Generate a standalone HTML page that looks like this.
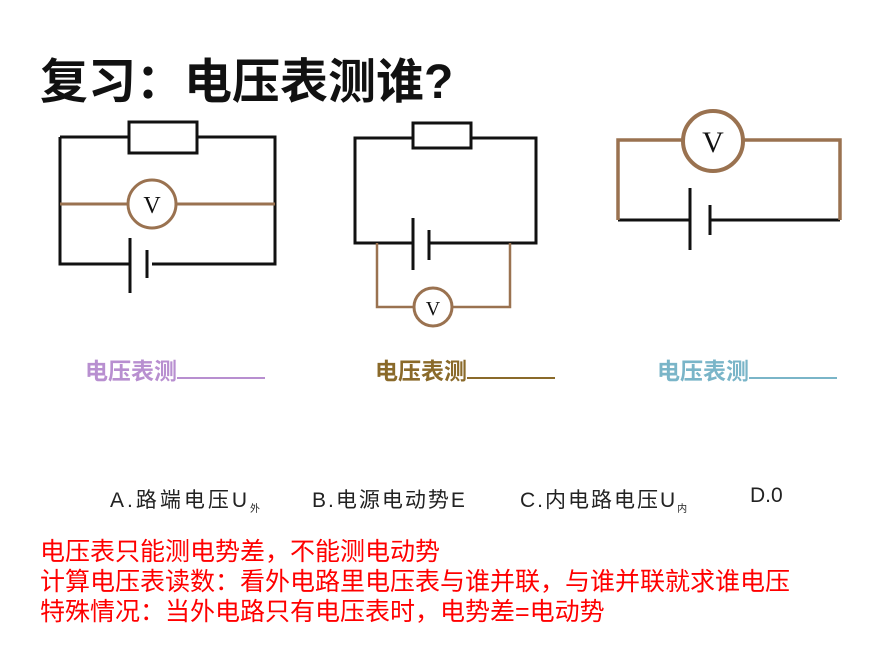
<!DOCTYPE html><html><head><meta charset="utf-8"><style>
body{margin:0;width:894px;height:668px;background:#fff;position:relative;overflow:hidden;font-family:"Liberation Sans","Noto Sans CJK SC",sans-serif}
.t{position:absolute;white-space:nowrap}
</style></head><body>
<div class="t" style="left:40px;top:42px;font-size:48px;font-weight:bold;color:#111">复习：电压表测谁?</div>
<svg width="894" height="668" style="position:absolute;left:0;top:0" fill="none">
<g stroke="#111" stroke-width="3">
<path d="M60 137H129M197 137H275V264H152M60 137V264H130"/>
<rect x="129" y="122" width="68" height="31" fill="#fff"/>
<path d="M130 238V293M147 250V278" />
<path d="M413 138H355V243H413M471 138H536V243H429"/>
<rect x="413" y="123" width="58" height="25" fill="#fff"/>
<path d="M413 218V270M429 230V260"/>
<path d="M618 220H690M710 220H840M690 188V250M710 205V235"/>
</g>
<g stroke="#9a7250" stroke-width="3">
<path d="M60 204H128M176 204H275"/>
<circle cx="152" cy="204" r="24" fill="#fff"/>
<path d="M377 243V307H414M452 307H510V243" stroke-width="2.5"/>
<circle cx="433" cy="307" r="19" fill="#fff"/>
<path d="M618 220V140H683M743 140H840V220" stroke-width="3.5"/>
<circle cx="713" cy="141" r="30" fill="#fff" stroke-width="4"/>
</g>
<g fill="#111" font-family="Liberation Serif,serif" text-anchor="middle">
<text x="152" y="213" font-size="24">V</text>
<text x="433" y="315" font-size="20">V</text>
<text x="713" y="152" font-size="30">V</text>
</g>
</svg>
<div class="t" style="left:85px;top:352px;font-size:23px;font-weight:bold;color:#b88fd0">电压表测<span style="display:inline-block;width:88px;border-bottom:2px solid #b88fd0"></span></div>
<div class="t" style="left:375px;top:352px;font-size:23px;font-weight:bold;color:#8a6a2a">电压表测<span style="display:inline-block;width:88px;border-bottom:2px solid #8a6a2a"></span></div>
<div class="t" style="left:657px;top:352px;font-size:23px;font-weight:bold;color:#7ab5c8">电压表测<span style="display:inline-block;width:88px;border-bottom:2px solid #7ab5c8"></span></div>
<div class="t" style="left:110px;top:484px;font-size:21px;letter-spacing:3px;color:#222">A.路端电压U<sub style="font-size:10px">外</sub></div>
<div class="t" style="left:312px;top:484px;font-size:21px;letter-spacing:2px;color:#222">B.电源电动势E</div>
<div class="t" style="left:520px;top:484px;font-size:21px;letter-spacing:2px;color:#222">C.内电路电压U<sub style="font-size:10px">内</sub></div>
<div class="t" style="left:750px;top:484px;font-size:21px;color:#222">D.0</div>
<div class="t" style="left:40px;top:537px;font-size:25px;line-height:30px;color:#f00">电压表只能测电势差，不能测电动势<br>计算电压表读数：看外电路里电压表与谁并联，与谁并联就求谁电压<br>特殊情况：当外电路只有电压表时，电势差=电动势</div>
</body></html>
